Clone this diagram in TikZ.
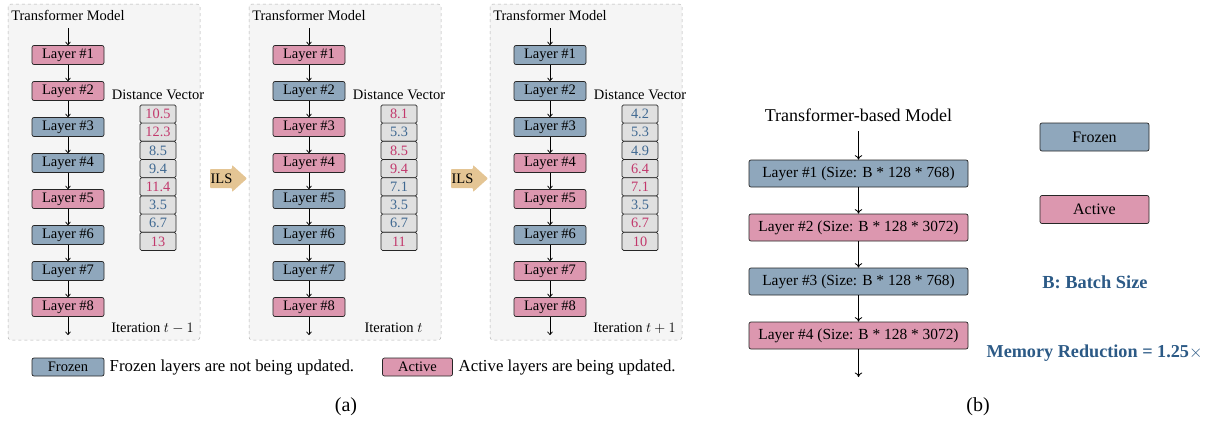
\documentclass[tikz,border=0pt]{standalone}
\usepackage{fontspec}
\setmainfont{Liberation Serif}
\usetikzlibrary{arrows.meta}
\definecolor{frz}{HTML}{8FA7BC}
\definecolor{act}{HTML}{DC97AF}
\definecolor{pnum}{HTML}{C2386C}
\definecolor{bnum}{HTML}{3F6891}
\definecolor{ilscol}{HTML}{E4C594}
\definecolor{cellbg}{HTML}{E0E0E0}
\definecolor{framebg}{HTML}{F5F5F5}
\definecolor{titlecol}{HTML}{2C5A86}
\begin{document}
\begin{tikzpicture}[x=1pt,y=-1pt,
  txt/.style={font=\fontsize{14.5}{16}\selectfont, inner sep=0pt},
  layerbox/.style={draw=black!85, line width=0.7pt, rounded corners=2pt, minimum width=72pt, minimum height=19pt, inner sep=0pt, font=\fontsize{14.5}{16}\selectfont},
  F/.style={layerbox, fill=frz},
  A/.style={layerbox, fill=act},
  bigbox/.style={layerbox, minimum width=219pt, minimum height=27pt, font=\fontsize{15.4}{17}\selectfont},
  cellbox/.style={draw=black!85, line width=0.7pt, fill=cellbg, rounded corners=1.5pt, minimum width=36pt, minimum height=18.2pt, inner sep=0pt, font=\fontsize{14.3}{16}\selectfont},
  flow/.style={-{To[length=3.5pt,width=5.5pt]}, line width=0.75pt},
  bflow/.style={-{To[length=4.5pt,width=7.5pt]}, line width=0.85pt},
  framebox/.style={draw=black!30, dashed, fill=framebg, rounded corners=3pt, line width=0.5pt},
]
\useasboundingbox (0,0) rectangle (1215,423);

% ---------- panel (a) ----------
\foreach \k/\items/\iter in {
  0/{A/10.5/pnum,A/12.3/pnum,F/8.5/bnum,F/9.4/bnum,A/11.4/pnum,F/3.5/bnum,F/6.7/bnum,A/13/pnum}/{$t-1$},
  1/{A/8.1/pnum,F/5.3/bnum,A/8.5/pnum,A/9.4/pnum,F/7.1/bnum,F/3.5/bnum,F/6.7/bnum,A/11/pnum}/{$t$},
  2/{F/4.2/bnum,F/5.3/bnum,F/4.9/bnum,A/6.4/pnum,A/7.1/pnum,F/3.5/bnum,A/6.7/pnum,A/10/pnum}/{$t+1$}}{
  \pgfmathsetmacro\xo{241*\k}
  \draw[framebox] (8+\xo,4) rectangle (200+\xo,340);
  \node[txt] (tm\k) at (68+\xo,15) {Transformer Model};
  \node[txt] (dv\k) at (158+\xo,95) {Distance Vector};
  \node[txt] (it\k) at (152.5+\xo,328) {Iteration \iter};
  \foreach \s/\v/\c [count=\i] in \items {
    \node[\s] (L\k-\i) at (68+\xo,{55+36*(\i-1)}) {Layer \#\i};
    \node[cellbox, text=\c] (D\k-\i) at (158+\xo,{114+18.2*(\i-1)}) {\v};
  }
  \coordinate (T\k) at (68+\xo,28);
  \coordinate (B\k) at (68+\xo,335);
  \draw[flow] (T\k) -- (L\k-1);
  \draw[flow] (L\k-8) -- (B\k);
  \foreach \i in {1,...,7}{
    \pgfmathtruncatemacro\j{\i+1}
    \draw[flow] (L\k-\i) -- (L\k-\j);
  }
}

% ILS arrows
\foreach \k in {0,1}{
  \pgfmathsetmacro\xa{210+241*\k}
  \fill[ilscol, rounded corners=0.8pt] (\xa,169) -- (\xa+22,169) -- (\xa+22,165) -- (\xa+37,178.5) -- (\xa+22,192) -- (\xa+22,188) -- (\xa,188) -- cycle;
  \node[txt] (ils\k) at (\xa+11.5,178.5) {ILS};
}

% legend (a)
\node[F, minimum height=18pt, font=\fontsize{14.5}{16}\selectfont] (lgF) at (68,367) {Frozen};
\node[txt, anchor=west, font=\fontsize{16.8}{19}\selectfont] (lgFt) at (109.5,367) {Frozen layers are not being updated.};
\node[A, minimum width=70pt, minimum height=18pt, font=\fontsize{14.5}{16}\selectfont] (lgA) at (417.5,367) {Active};
\node[txt, anchor=west, font=\fontsize{16.8}{19}\selectfont] (lgAt) at (458.5,367) {Active layers are being updated.};
\node[txt, font=\fontsize{20}{22}\selectfont] (capa) at (346,407) {(a)};

% ---------- panel (b) ----------
\node[txt, font=\fontsize{18}{20}\selectfont] (tbm) at (858.5,115) {Transformer-based Model};
\coordinate (bt) at (858.5,131);
\node[bigbox, fill=frz] (b1) at (858.5,173.5) {Layer \#1 (Size: B * 128 * 768)};
\node[bigbox, fill=act] (b2) at (858.5,227.5) {Layer \#2 (Size: B * 128 * 3072)};
\node[bigbox, fill=frz] (b3) at (858.5,281.5) {Layer \#3 (Size: B * 128 * 768)};
\node[bigbox, fill=act] (b4) at (858.5,335.5) {Layer \#4 (Size: B * 128 * 3072)};
\coordinate (bb) at (858.5,377);
\draw[bflow] (bt) -- (b1);
\draw[bflow] (b1) -- (b2);
\draw[bflow] (b2) -- (b3);
\draw[bflow] (b3) -- (b4);
\draw[bflow] (b4) -- (bb);

\node[layerbox, fill=frz, minimum width=109pt, minimum height=28pt, font=\fontsize{16}{18}\selectfont] (lbF) at (1094.5,137) {Frozen};
\node[layerbox, fill=act, minimum width=109pt, minimum height=28pt, font=\fontsize{16}{18}\selectfont] (lbA) at (1094.5,209.5) {Active};
\node[txt, font=\fontsize{18.4}{21}\selectfont\bfseries, text=titlecol] (bs) at (1095,282) {B: Batch Size};
\node[txt, font=\fontsize{18.2}{21}\selectfont\bfseries, text=titlecol] (mr) at (1094.5,353) {Memory Reduction = 1.25$\times$};
\node[txt, font=\fontsize{20}{22}\selectfont] (capb) at (978,407) {(b)};
\end{tikzpicture}
\end{document}
